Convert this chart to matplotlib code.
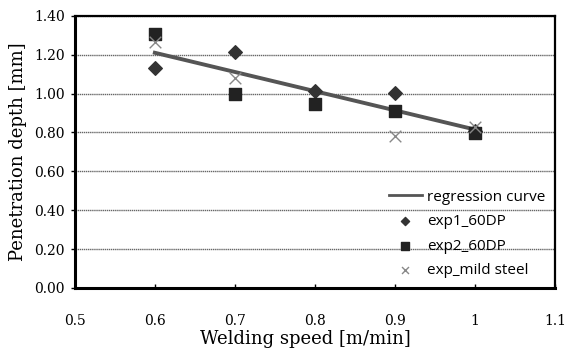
import matplotlib.pyplot as plt

# welding speed [m/min]
speed_reg = [0.6, 1.0]
depth_reg = [1.21, 0.815]

speed_exp1 = [0.6, 0.7, 0.8, 0.9, 1.0]
depth_exp1 = [1.13, 1.215, 1.015, 1.005, 0.81]

speed_exp2 = [0.6, 0.7, 0.8, 0.9, 1.0]
depth_exp2 = [1.305, 0.998, 0.948, 0.908, 0.795]

speed_mild = [0.6, 0.7, 0.9, 1.0]
depth_mild = [1.265, 1.08, 0.78, 0.83]

fig = plt.figure(figsize=(5.71, 3.52), dpi=100)
ax = fig.add_axes([0.131, 0.182, 0.841, 0.773])

ax.plot(speed_reg, depth_reg, color='#555555', lw=2.8, label='regression curve', zorder=3)
ax.scatter(speed_exp1, depth_exp1, marker='D', s=48, color='#333333', label='exp1_60DP', zorder=4)
ax.scatter(speed_exp2, depth_exp2, marker='s', s=72, color='#222222', label='exp2_60DP', zorder=4)
ax.scatter(speed_mild, depth_mild, marker='x', s=70, color='#888888', linewidths=1, label='exp_mild steel', zorder=5)

ax.set_xlim(0.5, 1.1)
ax.set_ylim(0, 1.4)
ax.set_xticks([0.5, 0.6, 0.7, 0.8, 0.9, 1.0, 1.1])
ax.set_xticklabels(['0.5', '0.6', '0.7', '0.8', '0.9', '1', '1.1'])
ax.set_yticks([0.0, 0.2, 0.4, 0.6, 0.8, 1.0, 1.2, 1.4])
ax.set_yticklabels([f'{v:.2f}' for v in ax.get_yticks()])
ax.grid(True, axis='y', color='#666666', lw=1, linestyle=(0, (1, 0.5)))
ax.set_axisbelow(True)

for side in ['left', 'bottom']:
    ax.spines[side].set_linewidth(2.2)
for side in ['top', 'right']:
    ax.spines[side].set_linewidth(1.6)

ax.tick_params(axis='y', length=3, width=1, labelsize=10, pad=4)
ax.tick_params(axis='x', direction='in', length=3, width=1, labelsize=10, pad=19)
for lbl in ax.get_xticklabels() + ax.get_yticklabels():
    lbl.set_family('DejaVu Serif')

ax.set_xlabel('Welding speed [m/min]', family='DejaVu Serif', fontsize=13, labelpad=4)
ax.set_ylabel('Penetration depth [mm]', family='DejaVu Serif', fontsize=13, labelpad=5)
ax.xaxis.set_label_coords(0.48, -0.155)

leg = ax.legend(loc='lower right', frameon=False, prop={'family': 'Open Sans', 'size': 11},
                handlelength=2.2, handletextpad=0.3, labelspacing=0.62, borderaxespad=0.25,
                markerscale=0.6)
leg.get_lines()[0].set_linewidth(2)

plt.savefig('out.png', dpi=100)
